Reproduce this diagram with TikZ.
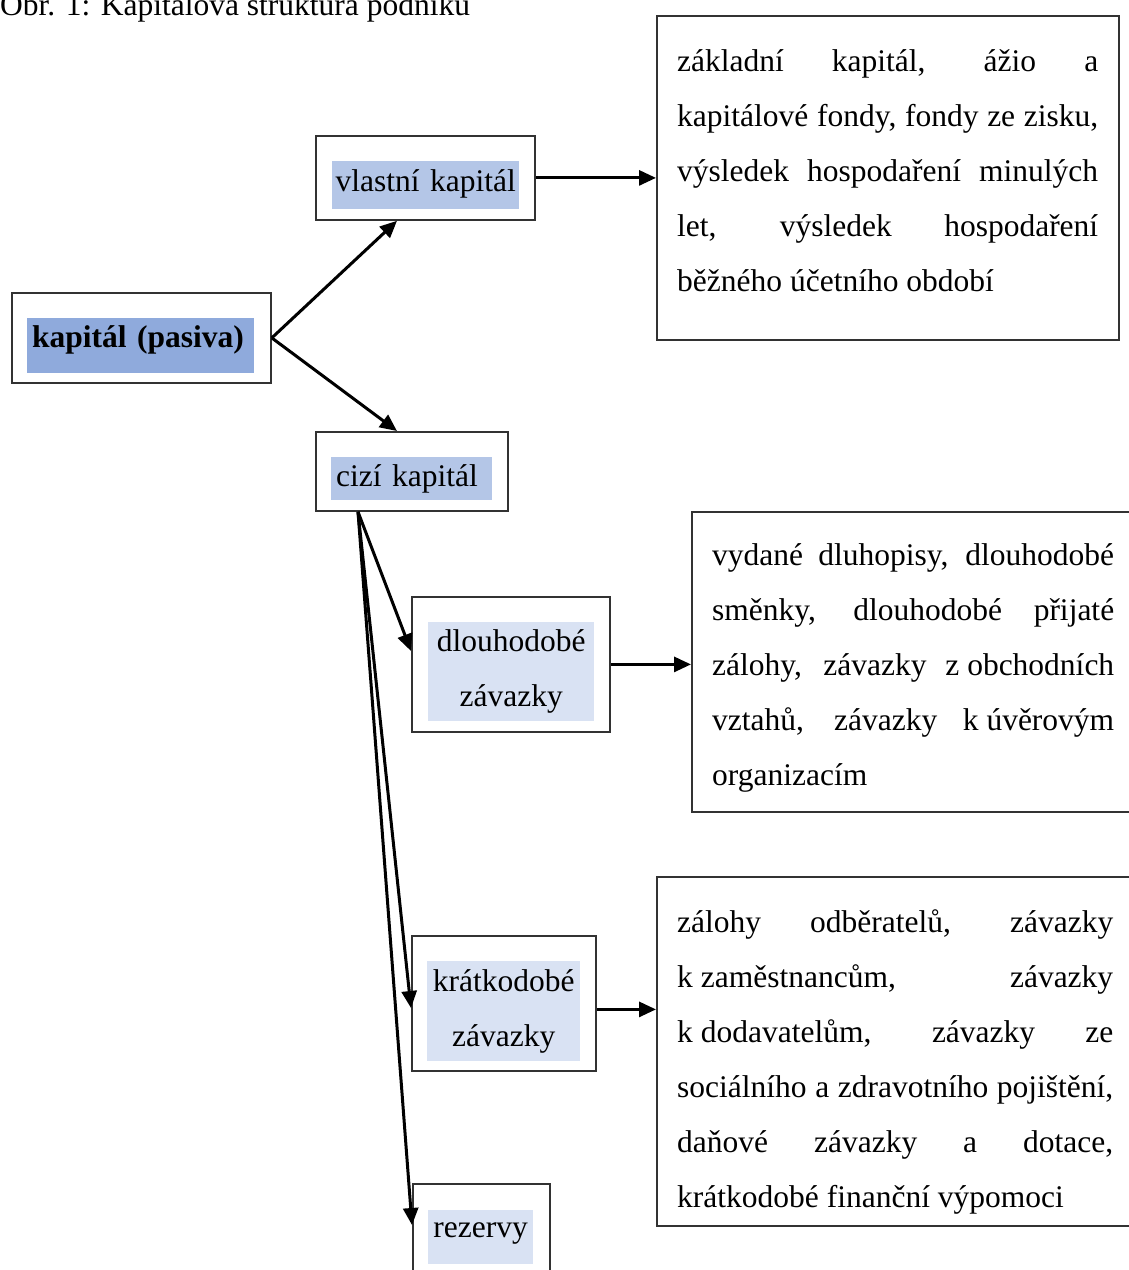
\documentclass[tikz,border=0pt]{standalone}
\usepackage{fontspec}
\setmainfont{Liberation Serif}
\usetikzlibrary{arrows.meta}

\definecolor{modra1}{RGB}{143,170,220}
\definecolor{modra2}{RGB}{180,198,231}
\definecolor{modra3}{RGB}{217,226,243}
\definecolor{ramecek}{RGB}{50,50,50}

\newcommand{\velkep}{\fontsize{31.5}{55}\selectfont}
\hyphenpenalty=10000
\exhyphenpenalty=10000
\tolerance=9999
\hbadness=10000

\tikzset{
  ramec/.style={draw=ramecek, line width=1.8pt, inner sep=0pt, anchor=north west},
  zvyr/.style={inner xsep=5pt, inner ysep=0pt, anchor=north west, font=\velkep},
  popis/.style={inner sep=0pt, anchor=north west, align=justify, font=\velkep},
  spoj/.style={line width=3pt, -{Triangle[length=17pt,width=15pt]}},
}

\begin{document}
\begin{tikzpicture}[x=1pt, y=-1pt]
\useasboundingbox (0,0) rectangle (1129,1270);
\clip (0,0) rectangle (1129,1270);

% nadpis
\node[anchor=base west, inner sep=0pt, font=\velkep] (nadpis) at (0,15)
  {Obr. 1: Kapitálová struktura podniku};

% ramecky
\node[ramec, minimum width=259pt, minimum height=90pt] (kapital) at (11,292) {};
\node[ramec, minimum width=219pt, minimum height=84pt] (vlastni) at (315,135) {};
\node[ramec, minimum width=192pt, minimum height=79pt] (cizi) at (315,431) {};
\node[ramec, minimum width=198pt, minimum height=135pt] (dlouhodobe) at (411,596) {};
\node[ramec, minimum width=184pt, minimum height=135pt] (kratkodobe) at (411,935) {};
\node[ramec, minimum width=137pt, minimum height=130pt] (rezervy) at (412,1183) {};

% zvyrazneny text
\node[zvyr, fill=modra1, text width=217pt, text height=29pt, text depth=26pt]
  (kapitalzv) at (27,318) {\textbf{kapitál (pasiva)}};
\node[zvyr, fill=modra2, inner xsep=2pt, text width=183pt, align=center,
  text height=30pt, text depth=18pt] (vlastnizv) at (332,161) {vlastní kapitál};
\node[zvyr, fill=modra2, text width=151pt, text height=29pt, text depth=14pt]
  (cizizv) at (331,457) {cizí kapitál};
\node[zvyr, fill=modra3, text width=156pt, align=center, minimum height=99pt]
  (dlouhodobezv) at (428,622) {dlouhodobé\\závazky};
\node[zvyr, fill=modra3, text width=143pt, align=center, minimum height=100pt]
  (kratkodobezv) at (427,961) {krátkodobé\\závazky};
\node[zvyr, fill=modra3, text width=95pt, align=center, text height=27pt,
  text depth=27pt] (rezervyzv) at (428,1210) {rezervy};

% popisy
\node[ramec, minimum width=462pt, minimum height=324pt] (vlastnipopis) at (656,15) {};
\node[popis, text width=421pt] (vlastnitext)
  at ([xshift=21pt,yshift=-17.5pt]vlastnipopis.north west)
  {\strut základní kapitál, ážio a\linebreak kapitálové fondy, fondy ze zisku,\linebreak
  výsledek hospodaření minulých\linebreak let, výsledek hospodaření\linebreak
  běžného účetního období};
\node[ramec, minimum width=445pt, minimum height=300pt] (dlouhodobepopis) at (691,511) {};
\node[popis, text width=402pt] (dlouhodobetext)
  at ([xshift=21pt,yshift=-15.5pt]dlouhodobepopis.north west)
  {\strut vydané dluhopisy, dlouhodobé\linebreak směnky, dlouhodobé přijaté\linebreak
  zálohy, závazky \mbox{z obchodních}\linebreak vztahů, závazky \mbox{k úvěrovým}\linebreak
  organizacím};
\node[ramec, minimum width=480pt, minimum height=349pt] (kratkodobepopis) at (656,876) {};
\node[popis, text width=436pt] (kratkodobetext)
  at ([xshift=21pt,yshift=-17.5pt]kratkodobepopis.north west)
  {\strut zálohy odběratelů, závazky\linebreak \mbox{k zaměstnancům}, závazky\linebreak
  \mbox{k dodavatelům}, závazky ze\linebreak sociálního a zdravotního pojištění,\linebreak
  daňové závazky a dotace,\linebreak krátkodobé finanční výpomoci};

% spojnice
\coordinate (ciziout) at ([xshift=43pt]cizi.south west);
\draw[spoj] (kapital.east) -- ([xshift=82pt]vlastni.south west);
\draw[spoj] (kapital.east) -- ([xshift=82pt]cizi.north west);
\draw[spoj] (vlastni.east) -- (vlastni.east -| vlastnipopis.west);
\draw[spoj] (ciziout) -- ([yshift=-55pt]dlouhodobe.north west);
\draw[spoj] (ciziout) -- ([yshift=-73pt]kratkodobe.north west);
\draw[spoj] (ciziout) -- ([yshift=-42pt]rezervy.north west);
\draw[spoj] (dlouhodobe.east) -- (dlouhodobe.east -| dlouhodobepopis.west);
\draw[spoj] ([yshift=-6pt]kratkodobe.east) -- ([yshift=-6pt]kratkodobe.east -| kratkodobepopis.west);
\end{tikzpicture}
\end{document}
